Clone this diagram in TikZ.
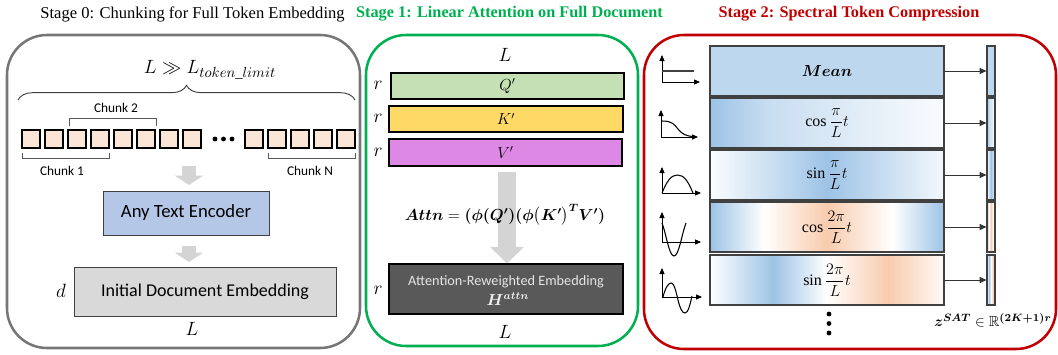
\documentclass[tikz,border=0pt]{standalone}
\usepackage{amsmath,amssymb,bm}
\usepackage{fontspec}
\setmainfont{Liberation Serif}
\newfontfamily\calib{Carlito}
\usetikzlibrary{fit,arrows.meta,decorations.pathreplacing,calc}
\definecolor{gbox}{RGB}{118,118,118}
\definecolor{sgreen}{RGB}{0,176,80}
\definecolor{sred}{RGB}{192,0,0}
\definecolor{peach}{RGB}{251,229,214}
\definecolor{encblue}{RGB}{180,199,231}
\definecolor{lgray}{RGB}{217,217,217}
\definecolor{qcol}{RGB}{197,224,180}
\definecolor{kcol}{RGB}{255,217,102}
\definecolor{vcol}{RGB}{222,136,230}
\definecolor{dgray}{RGB}{89,89,89}
\definecolor{meanblue}{RGB}{189,215,238}
\definecolor{blueS}{RGB}{157,195,230}
\definecolor{peachS}{RGB}{248,203,173}
\definecolor{arrgray}{RGB}{212,212,212}
\definecolor{barline}{RGB}{64,64,64}
\pgfdeclarehorizontalshading{shA}{100bp}{color(0bp)=(blueS); color(25bp)=(blueS); color(38bp)=(blueS!55!white); color(75bp)=(blueS!6!white); color(100bp)=(blueS!6!white)}
\pgfdeclarehorizontalshading{shB}{100bp}{color(0bp)=(blueS!4!white); color(25bp)=(blueS!4!white); color(50bp)=(blueS); color(75bp)=(blueS!12!white); color(100bp)=(blueS!12!white)}
\pgfdeclarehorizontalshading{shC}{100bp}{color(0bp)=(blueS); color(25bp)=(blueS); color(36.5bp)=(white); color(50bp)=(peachS); color(64bp)=(white); color(75bp)=(blueS); color(100bp)=(blueS)}
\pgfdeclarehorizontalshading{shD}{100bp}{color(0bp)=(white); color(25bp)=(white); color(38.5bp)=(blueS); color(50bp)=(white); color(63bp)=(peachS); color(75bp)=(peachS!10!white); color(100bp)=(peachS!10!white)}
\tikzset{
  stagebox/.style={rounded corners=30pt, line width=1.9pt},
  tok/.style={draw=black, line width=0.9pt, fill=peach},
  brk/.style={draw=black!65, line width=0.75pt},
  chunktxt/.style={font=\calib\fontsize{10}{12}\selectfont},
  mathlbl/.style={font=\fontsize{14.5}{16}\selectfont, inner sep=0pt},
  plainbox/.style={draw=barline, line width=0.75pt, inner sep=0pt},
  qkv/.style={draw=black, line width=0.8pt, inner sep=0pt},
  qkvtxt/.style={font=\fontsize{12}{14}\selectfont, inner sep=0pt},
  fatzero/.style={draw=arrgray, line width=11pt, -{Triangle[length=7pt,width=21pt]}},
  fatone/.style={draw=arrgray, line width=13.5pt, -{Triangle[length=12.5pt,width=25pt]}},
  specbar/.style={draw=barline, line width=1.1pt, inner sep=0pt},
  spectxt/.style={font=\fontsize{12}{14}\selectfont, inner sep=0pt},
  thinbar/.style={draw=barline, line width=0.9pt, inner sep=0pt},
  sarr/.style={draw=black!80, line width=0.6pt, -{Triangle[length=5pt,width=4.5pt]}},
  axisline/.style={line width=0.7pt, -{Triangle[length=4.5pt,width=3.8pt]}},
  icurve/.style={line width=0.8pt}
}
\begin{document}
\begin{tikzpicture}[x=0.75pt,y=-0.75pt]
\useasboundingbox (0,0) rectangle (1058,354);
% titles
\node[font=\fontsize{12.4}{14}\selectfont, inner sep=0pt] (t0) at (192.5,14) {Stage 0: Chunking for Full Token Embedding};
\node[font=\bfseries\fontsize{12.2}{14}\selectfont, text=sgreen, inner sep=0pt] (t1) at (509.5,14) {Stage 1: Linear Attention on Full Document};
\node[font=\bfseries\fontsize{12.2}{14}\selectfont, text=sred, inner sep=0pt] (t2) at (849,14) {Stage 2: Spectral Token Compression};
% stage boxes
\draw[stagebox, draw=gbox] (7,35) rectangle (360,348);
\draw[stagebox, draw=sgreen] (366,35) rectangle (638,346);
\draw[stagebox, draw=sred] (644,35) rectangle (1056,349);
% ---------- stage 0
\node[font=\fontsize{15.5}{17}\selectfont, inner sep=0pt] (lim) at (210,70) {$L \gg L_{token\_limit}$};
\draw[decorate, decoration={brace, amplitude=11pt}, black!75, line width=0.7pt] (18,100) -- (355,100);
\foreach \i in {0,...,7} \draw[tok] (22+23*\i,130) rectangle ++(18,18);
\foreach \i in {0,...,4} \draw[tok] (245+23*\i,130) rectangle ++(18,18);
\foreach \x in {215,223.5,232} \fill (\x,139) circle (1.8pt);
\draw[brk] (22,153) -- (22,158) -- (109,158) -- (109,153);
\draw[brk] (69,126) -- (69,118) -- (156,118) -- (156,126);
\draw[brk] (268,153) -- (268,158) -- (355,158) -- (355,153);
\node[chunktxt] (c1) at (62,171) {Chunk 1};
\node[chunktxt] (c2) at (116,108) {Chunk 2};
\node[chunktxt] (cN) at (310,171) {Chunk N};
\node[plainbox, fill=encblue, fit={(103,191) (269,235)}] (enc) {};
\node[font=\calib\fontsize{14}{16}\selectfont] (enctxt) at (enc.center) {Any Text Encoder};
\node[plainbox, fill=lgray, fit={(74,267) (336,316)}] (idoc) {};
\node[font=\calib\fontsize{13.5}{16}\selectfont] (idoctxt) at (idoc.center) {Initial Document Embedding};
\coordinate (a1s) at (189,166);
\coordinate (a1e) at (189,185);
\coordinate (a2s) at (189,246);
\coordinate (a2e) at (189,262);
\draw[fatzero] (a1s) -- (a1e);
\draw[fatzero] (a2s) -- (a2e);
\node[mathlbl] (dl) at (61,291) {$d$};
\node[mathlbl] (lb0) at (192,329) {$L$};
% ---------- stage 1
\node[mathlbl] (L1t) at (505,55) {$L$};
\node[qkv, fill=qcol, fit={(391,73) (624,99)}] (Q) {};
\node[qkv, fill=kcol, fit={(389,106) (623,132)}] (K) {};
\node[qkv, fill=vcol, fit={(389,139) (622,166)}] (V) {};
\node[qkvtxt] (Qt) at (Q.center) {$Q'$};
\node[qkvtxt] (Kt) at (K.center) {$K'$};
\node[qkvtxt] (Vt) at (V.center) {$V'$};
\node[mathlbl] (rq) at (378,85) {$r$};
\node[mathlbl] (rk) at (378,118) {$r$};
\node[mathlbl] (rv) at (378,152) {$r$};
\node[draw=black, line width=0.8pt, fill=dgray, inner sep=0pt, fit={(389,264) (623,314)}] (H) {};
\node[text=white!90!black, font=\calib\fontsize{10.7}{12}\selectfont] (Ht1) at (506,282) {Attention-Reweighted Embedding};
\node[text=white!95!black, font=\fontsize{12}{14}\selectfont] (Ht2) at (508,299) {$\boldsymbol{H^{attn}}$};
\coordinate (a3s) at (507,172);
\draw[fatone] (a3s) -- (H.north -| a3s);
\node[font=\fontsize{11.5}{14}\selectfont] (formula) at (505,215) {$\boldsymbol{Attn} = \boldsymbol{(\phi(Q')(\phi\bigl(K'\bigr)^{T}V')}$};
\node[mathlbl] (rh) at (378,290) {$r$};
\node[mathlbl] (L1b) at (505,332) {$L$};
% ---------- stage 2
\node[specbar, fill=meanblue, fit={(710,46) (944,96)}] (b0) {};
\node[specbar, shading=shA, fit={(710,98) (944,148)}] (b1) {};
\node[specbar, shading=shB, fit={(710,150) (944,200)}] (b2) {};
\node[specbar, shading=shC, fit={(710,202) (944,252)}] (b3) {};
\node[specbar, shading=shD, fit={(710,255) (944,305)}] (b4) {};
\node[spectxt] (bt0) at (b0.center) {$\boldsymbol{Mean}$};
\node[spectxt] (bt1) at (b1.center) {$\cos\dfrac{\pi}{L}t$};
\node[spectxt] (bt2) at (b2.center) {$\sin\dfrac{\pi}{L}t$};
\node[spectxt] (bt3) at (b3.center) {$\cos\dfrac{2\pi}{L}t$};
\node[spectxt] (bt4) at (b4.center) {$\sin\dfrac{2\pi}{L}t$};
\node[thinbar, fill=meanblue, fit={(987,46) (995,96)}] (s0) {};
\node[thinbar, shading=shA, fit={(987,98) (995,148)}] (s1) {};
\node[thinbar, shading=shB, fit={(987,150) (995,200)}] (s2) {};
\node[thinbar, shading=shC, fit={(987,202) (995,252)}] (s3) {};
\node[thinbar, shading=shD, fit={(987,255) (995,305)}] (s4) {};
\foreach \i in {0,...,4} \draw[sarr] (b\i.east) -- (s\i.west);
\foreach \y in {314,323.5,333} \fill (829,\y) circle (1.8pt);
\node[font=\fontsize{11}{13}\selectfont] (zlab) at (993,320) {$\boldsymbol{z}^{\boldsymbol{SAT}}\in\mathbb{R}^{\boldsymbol{(2K+1)r}}$};
% icons
\draw[axisline] (662,82) -- (662,55);
\draw[axisline] (662,82) -- (700,82);
\draw[icurve, black!75] (662,71) -- (694,71);
\draw[axisline] (661,137) -- (661,110);
\draw[axisline] (661,137) -- (698,137);
\draw[icurve] (662,121) .. controls (672,121) and (674,124) .. (678,129) .. controls (682,134) and (686,136.5) .. (695,136.5);
\draw[axisline] (662,193) -- (662,167);
\draw[axisline] (662,193) -- (701,193);
\draw[icurve] (662,193) .. controls (667,181) and (671,175) .. (677.5,175) .. controls (684,175) and (688,181) .. (693,193);
\draw[axisline] (662,242) -- (662,212);
\draw[axisline] (662,242) -- (701,242);
\draw[icurve] (662,223) .. controls (666,233) and (669,256) .. (674,256) .. controls (679,256) and (682,233) .. (686,223);
\draw[axisline] (662,297) -- (662,268);
\draw[axisline] (662,297) -- (702,297);
\draw[icurve] (663,297) .. controls (665,289) and (668,283) .. (671,283) .. controls (675,283) and (677,297) .. (678,300) .. controls (680,308) and (682,313) .. (685,313) .. controls (688,313) and (690,305) .. (692,296);
\end{tikzpicture}
\end{document}
